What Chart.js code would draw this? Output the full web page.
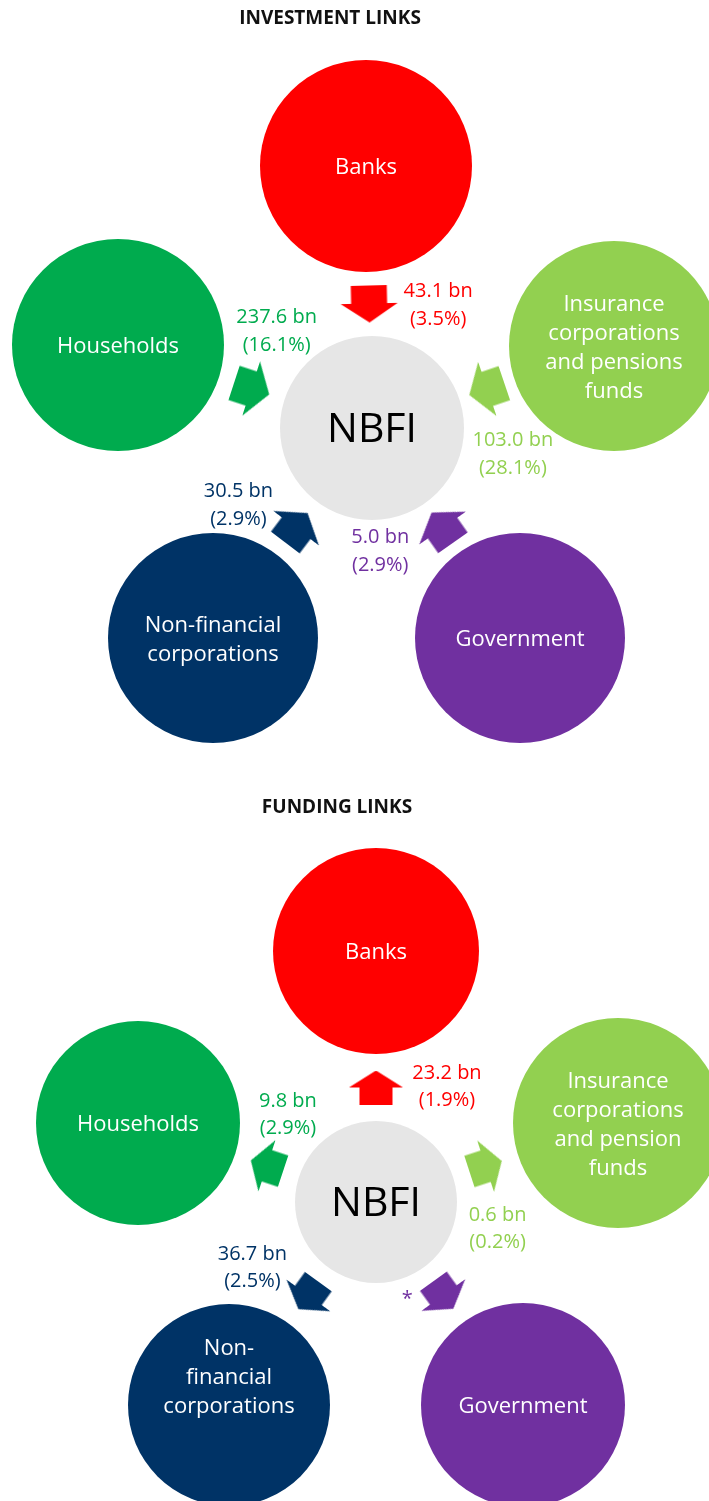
<!DOCTYPE html>
<html>
<head>
<meta charset="utf-8">
<script src="https://cdn.jsdelivr.net/npm/chart.js@4.4.1/dist/chart.umd.min.js"></script>
<style>
  html, body { margin: 0; padding: 0; background: #ffffff; }
  canvas { display: block; }
</style>
</head>
<body>
<canvas id="investment-chart" width="709" height="770"></canvas>
<canvas id="funding-chart" width="709" height="731"></canvas>
<script>
// NBFI links with the other sectors (order: Banks, Households, Insurance, NFC, Government)
const sectorNames = ['Banks', 'Households', 'Insurance corporations and pension funds', 'Non-financial corporations', 'Government'];
const sectorColors = ['#ff0000', '#00ab4e', '#92d050', '#003366', '#7030a0'];

const investNames = [['Banks'], ['Households'], ['Insurance', 'corporations', 'and pensions', 'funds'], ['Non-financial', 'corporations'], ['Government']];
const investBn = [43.1, 237.6, 103.0, 30.5, 5.0];
const investPct = [3.5, 16.1, 28.1, 2.9, 2.9];

const fundingNames = [['Banks'], ['Households'], ['Insurance', 'corporations', 'and pension', 'funds'], ['Non-', 'financial', 'corporations'], ['Government']];
const fundingBn = [23.2, 9.8, 0.6, 36.7, null];   // null = not shown (*)
const fundingPct = [1.9, 2.9, 0.2, 2.5, null];

// layout of the diagrams, in chart units (1 unit = 1 px)
const FONT = '"Open Sans", "Noto Sans", sans-serif';

const investLayout = {
    height: 770,
    title: 'INVESTMENT LINKS',
    titlePos: [330, 18],
    hub: [372, 428, 92],
    nodeX: [366, 118, 614, 213, 520],
    nodeY: [166, 345, 346, 638, 638],
    nodeR: [106, 106, 105, 105, 105],
    nameDy: [0, 0, 0, 0, 0],
    labelOffset: [[69, 0], [25, -58], [26, 64], [-58, -24], [-62, 23]],
    lineGap: 28,
    arrow: { len: 37, width: 57, shaft: 36, head: 19 },
    inward: true
};

const fundingLayout = {
    height: 731,
    title: 'FUNDING LINKS',
    titlePos: [337, 37],
    hub: [376, 432, 81],
    nodeX: [376, 138, 618, 229, 523],
    nodeY: [181, 353, 353, 635, 635],
    nodeR: [103, 102, 105, 101, 102],
    nameDy: [0, 0, 0, -29, 0],
    labelOffset: [[71, -2], [21, -52], [12, 62], [-56, -29], [-36, 3]],
    lineGap: 27,
    arrow: { len: 34, width: 54, shaft: 33, head: 17 },
    inward: false
};

/**
 * Block arrow pointing right, used as point style
 */
function makeArrow(color, a) {
    const c = document.createElement('canvas');
    c.width = a.len;
    c.height = a.width;
    const g = c.getContext('2d');
    const mid = a.width / 2;
    g.fillStyle = color;
    g.beginPath();
    g.moveTo(0, mid - a.shaft / 2);
    g.lineTo(a.len - a.head, mid - a.shaft / 2);
    g.lineTo(a.len - a.head, 0);
    g.lineTo(a.len, mid);
    g.lineTo(a.len - a.head, a.width);
    g.lineTo(a.len - a.head, mid + a.shaft / 2);
    g.lineTo(0, mid + a.shaft / 2);
    g.closePath();
    g.fill();
    return c;
}

function formatLink(bn, pct) {
    if (bn === null) return ['*'];
    return [bn.toFixed(1) + ' bn', '(' + pct.toFixed(1) + '%)'];
}

function buildDiagram(canvasId, layout, names, bn, pct) {
    const [hx, hy, hr] = layout.hub;

    // circles: the five sectors + NBFI in the middle
    const nodePoints = layout.nodeX.map((x, i) => ({ x: x, y: layout.nodeY[i], r: layout.nodeR[i] }));
    nodePoints.push({ x: hx, y: hy, r: hr });
    const nodeColors = sectorColors.concat(['#e6e6e6']);

    // arrows sit half way across the gap between a sector and NBFI
    const arrowPoints = [];
    const arrowAngles = [];
    const arrowStyles = [];
    layout.nodeX.forEach((x, i) => {
        const y = layout.nodeY[i];
        const dx = hx - x;
        const dy = hy - y;
        const d = Math.sqrt(dx * dx + dy * dy);
        const t = (layout.nodeR[i] + d - hr) / 2 / d;
        arrowPoints.push({ x: x + dx * t, y: y + dy * t, r: 10 });
        let ang = Math.atan2(dy, dx) * 180 / Math.PI;
        if (!layout.inward) ang += 180;
        arrowAngles.push(ang);
        arrowStyles.push(makeArrow(sectorColors[i], layout.arrow));
    });

    const labelPlugin = {
        id: 'diagramLabels',
        afterDatasetsDraw(chart) {
            const { ctx } = chart;
            const xs = chart.scales.x;
            const ys = chart.scales.y;
            ctx.save();
            ctx.textAlign = 'center';
            ctx.textBaseline = 'middle';

            // title
            ctx.font = 'bold 19px ' + FONT;
            ctx.fillStyle = '#111111';
            ctx.fillText(layout.title, xs.getPixelForValue(layout.titlePos[0]), ys.getPixelForValue(layout.titlePos[1]) + 1);

            // sector names inside circles
            const nodes = chart.getDatasetMeta(0).data;
            ctx.font = '22px ' + FONT;
            ctx.fillStyle = '#ffffff';
            names.forEach((lines, i) => {
                const el = nodes[i];
                const top = el.y + 2 + layout.nameDy[i] - (lines.length - 1) * 29 / 2;
                lines.forEach((ln, k) => ctx.fillText(ln, el.x, top + k * 29));
            });

            // NBFI
            const hub = nodes[nodes.length - 1];
            ctx.font = '41px ' + FONT;
            ctx.fillStyle = '#000000';
            ctx.fillText('NBFI', hub.x, hub.y + 2);

            // link values next to arrows
            const arrows = chart.getDatasetMeta(1).data;
            ctx.font = '20px ' + FONT;
            arrows.forEach((el, i) => {
                const lines = formatLink(bn[i], pct[i]);
                const [ox, oy] = layout.labelOffset[i];
                ctx.fillStyle = sectorColors[i];
                const top = el.y + 1 + oy - (lines.length - 1) * layout.lineGap / 2;
                lines.forEach((ln, k) => ctx.fillText(ln, el.x + ox, top + k * layout.lineGap));
            });
            ctx.restore();
        }
    };

    return new Chart(document.getElementById(canvasId), {
        type: 'bubble',
        data: {
            datasets: [
                {
                    label: 'Sectors',
                    data: nodePoints,
                    backgroundColor: nodeColors,
                    borderWidth: 0,
                    hoverRadius: 0,
                    clip: false,
                    order: 2
                },
                {
                    label: 'Links',
                    data: arrowPoints,
                    pointStyle: arrowStyles,
                    rotation: arrowAngles,
                    backgroundColor: sectorColors,
                    borderWidth: 0,
                    hoverRadius: 0,
                    clip: false,
                    order: 1
                }
            ]
        },
        options: {
            responsive: false,
            animation: false,
            events: [],
            layout: { padding: 0, autoPadding: false },
            plugins: {
                legend: { display: false },
                tooltip: { enabled: false },
                title: { display: false }
            },
            scales: {
                x: { type: 'linear', min: 0, max: 709, display: false },
                y: { type: 'linear', min: 0, max: layout.height, reverse: true, display: false }
            }
        },
        plugins: [labelPlugin]
    });
}

buildDiagram('investment-chart', investLayout, investNames, investBn, investPct);
buildDiagram('funding-chart', fundingLayout, fundingNames, fundingBn, fundingPct);
</script>
</body>
</html>
